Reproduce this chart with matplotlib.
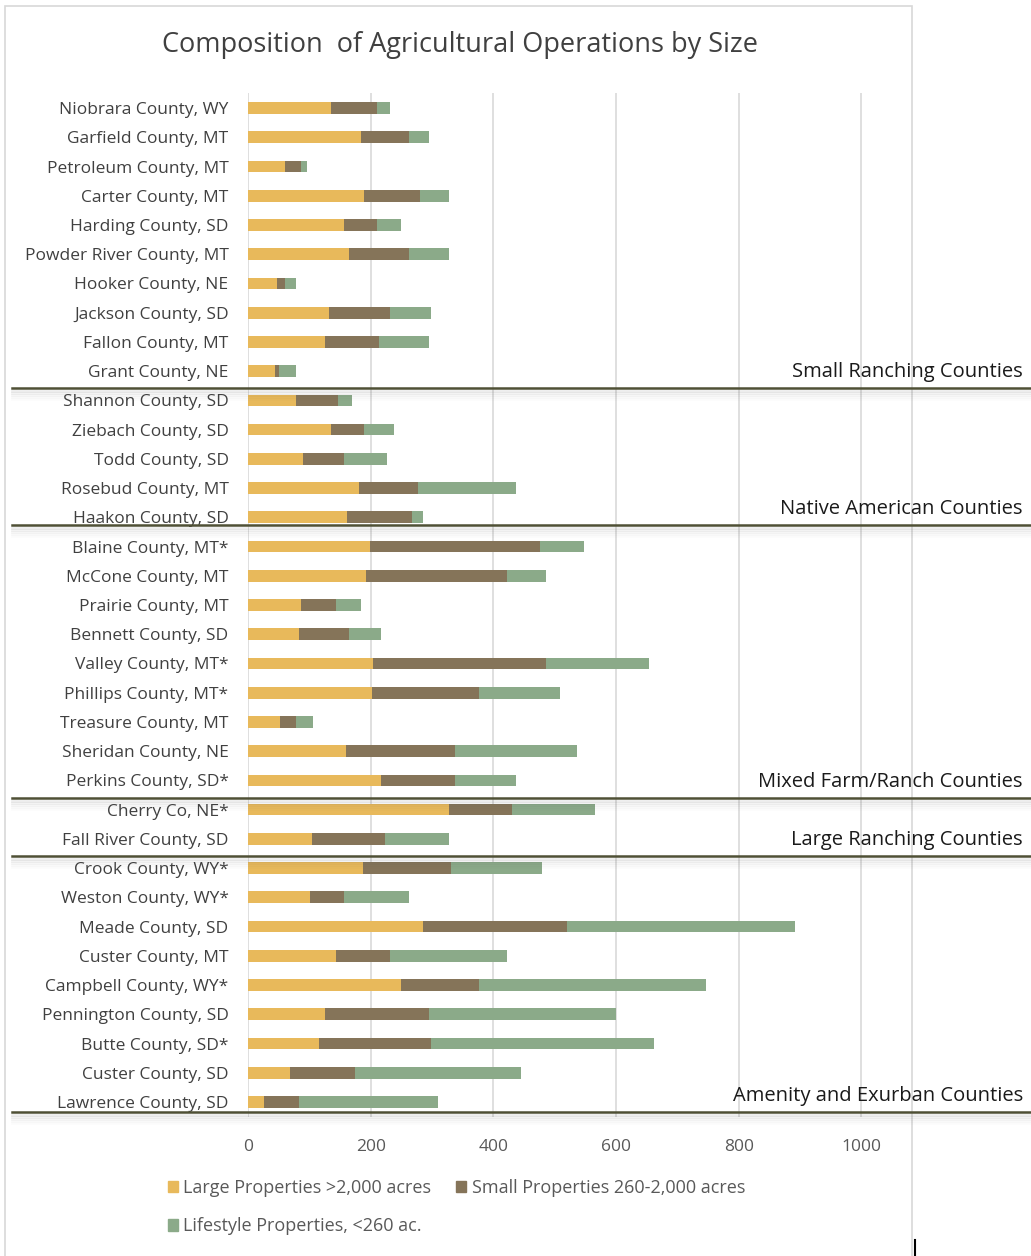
import matplotlib
matplotlib.use("Agg")
import matplotlib.pyplot as plt
import matplotlib.transforms as mtransforms
from matplotlib.lines import Line2D
from matplotlib.patches import Rectangle
import numpy as np

counties = ["Niobrara County, WY", "Garfield County, MT", "Petroleum County, MT",
            "Carter County, MT", "Harding County, SD", "Powder River County, MT",
            "Hooker County, NE", "Jackson County, SD", "Fallon County, MT",
            "Grant County, NE",
            "Shannon County, SD", "Ziebach County, SD", "Todd County, SD",
            "Rosebud County, MT", "Haakon County, SD",
            "Blaine County, MT*", "McCone County, MT", "Prairie County, MT",
            "Bennett County, SD", "Valley County, MT*", "Phillips County, MT*",
            "Treasure County, MT", "Sheridan County, NE", "Perkins County, SD*",
            "Cherry Co, NE*", "Fall River County, SD",
            "Crook County, WY*", "Weston County, WY*", "Meade County, SD",
            "Custer County, MT", "Campbell County, WY*", "Pennington County, SD",
            "Butte County, SD*", "Custer County, SD", "Lawrence County, SD"]
large = [136, 185, 61, 189, 157, 164, 47, 132, 125, 44,
         79, 135, 89, 181, 161,
         199, 193, 86, 83, 203, 202, 53, 160, 217,
         327, 104,
         188, 101, 286, 143, 250, 125, 115, 69, 26]
small = [74, 78, 25, 92, 53, 99, 14, 99, 88, 6,
         67, 54, 68, 96, 106,
         277, 230, 57, 81, 283, 175, 25, 178, 121,
         103, 120,
         143, 55, 234, 88, 127, 170, 184, 105, 57]
lifestyle = [21, 32, 10, 46, 39, 64, 17, 67, 82, 28,
             24, 49, 70, 160, 18,
             71, 63, 42, 53, 167, 131, 28, 199, 99,
             135, 103,
             149, 107, 371, 192, 369, 305, 362, 271, 227]
series_names = ["Large Properties >2,000 acres", "Small Properties 260-2,000 acres",
                "Lifestyle Properties, <260 ac."]
group_labels = ["Small Ranching Counties", "Native American Counties",
                "Mixed Farm/Ranch Counties", "Large Ranching Counties",
                "Amenity and Exurban Counties"]
group_last = [9, 14, 23, 25, 34]
line_offset = [0.58, 0.26, 0.6, 0.6, 0.34]

c_large = "#E8B95B"
c_small = "#857459"
c_life = "#8BAA89"
plt.rcParams['font.family'] = ['Open Sans', 'DejaVu Sans']

fig = plt.figure(figsize=(10.31, 12.56), dpi=100)
ax = fig.add_axes([0.2405, 0.111, 0.6427, 0.8146])

y = np.arange(len(counties))
large = np.array(large)
small = np.array(small)
lifestyle = np.array(lifestyle)
h = 0.4
ax.barh(y, large, height=h, color=c_large, zorder=3)
ax.barh(y, small, left=large, height=h, color=c_small, zorder=3)
ax.barh(y, lifestyle, left=large + small, height=h, color=c_life, zorder=3)

ax.set_ylim(len(counties) - 0.5, -0.5)
ax.set_xlim(0, 1080)
ax.set_xticks([0, 200, 400, 600, 800, 1000])
ax.set_yticks(y)
ax.set_yticklabels(counties, fontsize=12.5, color="#404040")
ax.tick_params(axis='x', labelsize=12.5, colors="#595959", length=0, pad=16)
ax.tick_params(axis='y', length=0, pad=14)
ax.grid(axis='x', color="#d9d9d9", lw=1.2, zorder=0)
for s in ax.spines.values():
    s.set_visible(False)

fig.text(0.446, 0.964, "Composition  of Agricultural Operations by Size",
         ha='center', va='center', fontsize=19.5, color="#404040")

# group separators: x in figure coords, y in data coords
tr = mtransforms.blended_transform_factory(fig.transFigure, ax.transData)
px = 1 / 29.24
for lab, last, off in zip(group_labels, group_last, line_offset):
    yl = last + off
    for k, a in enumerate([0.10, 0.07, 0.05, 0.03, 0.02]):
        fig.add_artist(Line2D([0.012, 1.0], [yl + (k + 1.5) * 2 * px] * 2, transform=tr,
                              color="#555555", lw=2, alpha=a))
    fig.add_artist(Line2D([0.012, 1.0], [yl, yl], transform=tr, color="#4f5035", lw=1.8))
    t = fig.text(0.992, 0, lab, transform=tr, ha='right', va='center', fontsize=14.5,
                 color="#1a1a1a")
    t.set_y(yl - 0.55)

# frame
fig.add_artist(Rectangle((0.005, -0.01), 0.88, 1.005, transform=fig.transFigure,
                         fill=False, edgecolor="#d8d8d8", lw=1.2))
fig.add_artist(Line2D([0.8875, 0.8875], [0.0, 0.013], transform=fig.transFigure,
                      color="black", lw=1.5))

# legend fills column-first, so order gives Large | Small on row one
handles = [Rectangle((0, 0), 1, 1, color=c) for c in (c_large, c_life, c_small)]
labels = [series_names[0], series_names[2], series_names[1]]
fig.legend(handles, labels, loc='upper left', bbox_to_anchor=(0.147, 0.0745),
           ncol=2, frameon=False, fontsize=13, handlelength=0.55, handleheight=0.6,
           handletextpad=0.3, columnspacing=1.4, labelspacing=1.15, labelcolor="#595959")

fig.savefig("out.png", dpi=100, facecolor="white")
